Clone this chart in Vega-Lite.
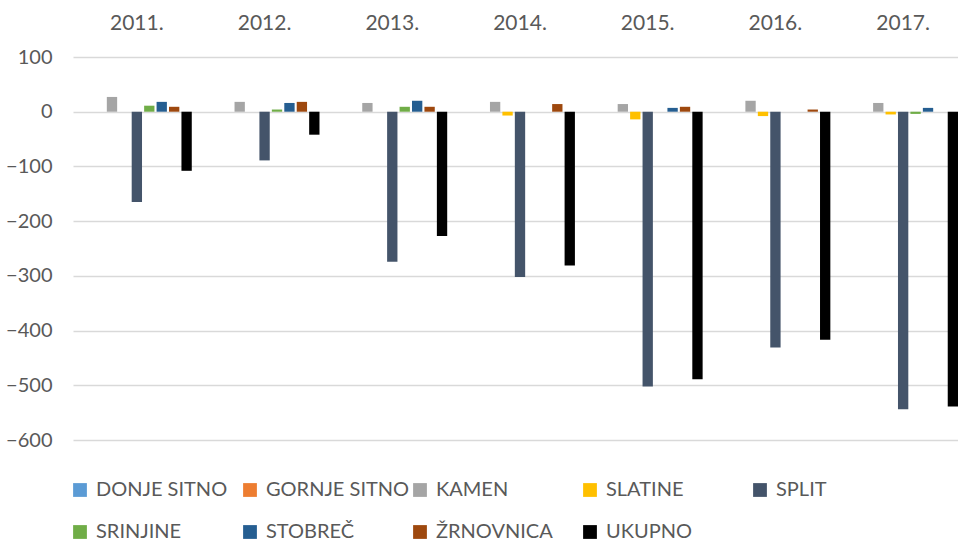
{
  "$schema": "https://vega.github.io/schema/vega-lite/v6.json",
  "autosize": {"type": "none"},
  "width": 885,
  "height": 383,
  "padding": {"left": 73, "top": 57, "right": 0, "bottom": 104},
  "background": "white",
  "config": {
    "font": "Lato",
    "view": {"stroke": null}
  },
  "data": {
    "values": [
      {"year": "2011.", "series": "DONJE SITNO", "value": 0},
      {"year": "2011.", "series": "GORNJE SITNO", "value": 0},
      {"year": "2011.", "series": "KAMEN", "value": 27},
      {"year": "2011.", "series": "SLATINE", "value": 0},
      {"year": "2011.", "series": "SPLIT", "value": -165},
      {"year": "2011.", "series": "SRINJINE", "value": 11},
      {"year": "2011.", "series": "STOBREČ", "value": 18},
      {"year": "2011.", "series": "ŽRNOVNICA", "value": 9},
      {"year": "2011.", "series": "UKUPNO", "value": -108},
      {"year": "2012.", "series": "DONJE SITNO", "value": 0},
      {"year": "2012.", "series": "GORNJE SITNO", "value": 0},
      {"year": "2012.", "series": "KAMEN", "value": 18},
      {"year": "2012.", "series": "SLATINE", "value": 0},
      {"year": "2012.", "series": "SPLIT", "value": -89},
      {"year": "2012.", "series": "SRINJINE", "value": 4},
      {"year": "2012.", "series": "STOBREČ", "value": 16},
      {"year": "2012.", "series": "ŽRNOVNICA", "value": 18},
      {"year": "2012.", "series": "UKUPNO", "value": -42},
      {"year": "2013.", "series": "DONJE SITNO", "value": 0},
      {"year": "2013.", "series": "GORNJE SITNO", "value": 0},
      {"year": "2013.", "series": "KAMEN", "value": 16},
      {"year": "2013.", "series": "SLATINE", "value": 0},
      {"year": "2013.", "series": "SPLIT", "value": -274},
      {"year": "2013.", "series": "SRINJINE", "value": 9},
      {"year": "2013.", "series": "STOBREČ", "value": 20},
      {"year": "2013.", "series": "ŽRNOVNICA", "value": 9},
      {"year": "2013.", "series": "UKUPNO", "value": -227},
      {"year": "2014.", "series": "DONJE SITNO", "value": 0},
      {"year": "2014.", "series": "GORNJE SITNO", "value": 0},
      {"year": "2014.", "series": "KAMEN", "value": 18},
      {"year": "2014.", "series": "SLATINE", "value": -7},
      {"year": "2014.", "series": "SPLIT", "value": -302},
      {"year": "2014.", "series": "SRINJINE", "value": 0},
      {"year": "2014.", "series": "STOBREČ", "value": 0},
      {"year": "2014.", "series": "ŽRNOVNICA", "value": 14},
      {"year": "2014.", "series": "UKUPNO", "value": -281},
      {"year": "2015.", "series": "DONJE SITNO", "value": 0},
      {"year": "2015.", "series": "GORNJE SITNO", "value": 0},
      {"year": "2015.", "series": "KAMEN", "value": 14},
      {"year": "2015.", "series": "SLATINE", "value": -14},
      {"year": "2015.", "series": "SPLIT", "value": -502},
      {"year": "2015.", "series": "SRINJINE", "value": 0},
      {"year": "2015.", "series": "STOBREČ", "value": 7},
      {"year": "2015.", "series": "ŽRNOVNICA", "value": 9},
      {"year": "2015.", "series": "UKUPNO", "value": -489},
      {"year": "2016.", "series": "DONJE SITNO", "value": 0},
      {"year": "2016.", "series": "GORNJE SITNO", "value": 0},
      {"year": "2016.", "series": "KAMEN", "value": 20},
      {"year": "2016.", "series": "SLATINE", "value": -8},
      {"year": "2016.", "series": "SPLIT", "value": -431},
      {"year": "2016.", "series": "SRINJINE", "value": 0},
      {"year": "2016.", "series": "STOBREČ", "value": 0},
      {"year": "2016.", "series": "ŽRNOVNICA", "value": 4},
      {"year": "2016.", "series": "UKUPNO", "value": -417},
      {"year": "2017.", "series": "DONJE SITNO", "value": 0},
      {"year": "2017.", "series": "GORNJE SITNO", "value": 0},
      {"year": "2017.", "series": "KAMEN", "value": 16},
      {"year": "2017.", "series": "SLATINE", "value": -5},
      {"year": "2017.", "series": "SPLIT", "value": -544},
      {"year": "2017.", "series": "SRINJINE", "value": -4},
      {"year": "2017.", "series": "STOBREČ", "value": 7},
      {"year": "2017.", "series": "ŽRNOVNICA", "value": 0},
      {"year": "2017.", "series": "UKUPNO", "value": -539}
    ]
  },
  "mark": {"type": "bar"},
  "encoding": {
    "x": {
      "field": "year",
      "type": "nominal",
      "sort": null,
      "scale": {"range": [0, 894], "paddingInner": 0.14, "paddingOuter": 0.07},
      "axis": {
        "orient": "top",
        "title": null,
        "domain": false,
        "ticks": false,
        "labelAngle": 0,
        "labelFontSize": 21,
        "labelColor": "#595959",
        "labelPadding": 24,
        "labelFont": "Lato"
      }
    },
    "xOffset": {
      "field": "series",
      "type": "nominal",
      "sort": null,
      "scale": {"paddingInner": 0.17, "paddingOuter": 0}
    },
    "y": {
      "field": "value",
      "type": "quantitative",
      "scale": {"domain": [-600, 100], "nice": false},
      "axis": {
        "title": null,
        "values": [-600, -500, -400, -300, -200, -100, 0, 100],
        "domain": false,
        "ticks": false,
        "labelFontSize": 20,
        "labelColor": "#595959",
        "labelPadding": 21,
        "gridColor": "#d9d9d9",
        "gridWidth": 1.3,
        "labelFont": "Lato"
      }
    },
    "color": {
      "field": "series",
      "type": "nominal",
      "sort": null,
      "scale": {
        "domain": ["DONJE SITNO", "GORNJE SITNO", "KAMEN", "SLATINE", "SPLIT", "SRINJINE", "STOBREČ", "ŽRNOVNICA", "UKUPNO"],
        "range": ["#5B9BD5", "#ED7D31", "#A5A5A5", "#FFC000", "#44546A", "#70AD47", "#255E91", "#9E480E", "#000000"]
      },
      "legend": {
        "title": null,
        "orient": "none",
        "legendX": -3,
        "legendY": 423,
        "direction": "horizontal",
        "columns": 5,
        "gridAlign": "all",
        "symbolType": "square",
        "symbolSize": 190,
        "symbolStrokeWidth": 0,
        "labelFontSize": 20,
        "labelColor": "#595959",
        "labelFont": "Lato",
        "labelOffset": 6,
        "columnPadding": 0,
        "rowPadding": 22,
        "labelLimit": 300
      }
    }
  }
}
